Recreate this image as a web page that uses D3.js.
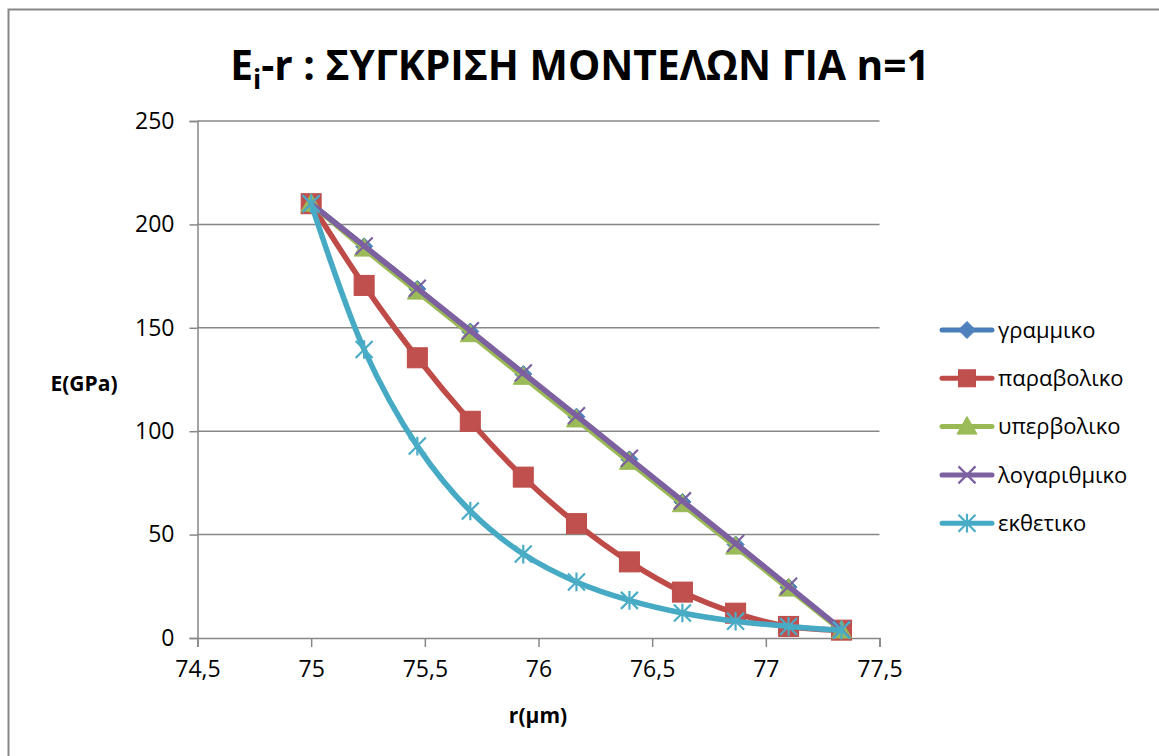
<!DOCTYPE html>
<html>
<head>
<meta charset="utf-8">
<script src="https://cdn.jsdelivr.net/npm/d3@7"></script>
<style>
	body { margin: 0; background: #fff; }
	text { font-family: "Open Sans", "Noto Sans", sans-serif; fill: #000; }
</style>
</head>
<body>
<div id="chart"></div>
<script>
// r values (μm)
var radius = [75, 75.233, 75.467, 75.7, 75.933, 76.167, 76.4, 76.633, 76.867, 77.1, 77.333];

// E values (GPa) per model
var linear = [210, 189.4, 168.8, 148.2, 127.6, 107, 86.4, 65.8, 45.2, 24.6, 4];
var parabolic = [210, 170.5, 135.5, 104.8, 77.8, 55.3, 36.8, 22.2, 12, 5.6, 3.8];
var hyperbolic = [210, 188.3, 167.5, 146.9, 126.3, 105.7, 85.2, 64.7, 44.2, 23.9, 3.6];
var logarithmic = [210, 189.6, 169.1, 148.6, 128.1, 107.5, 86.9, 66.3, 45.7, 25, 4.2];
var exponential = [210, 139.5, 92.8, 61.4, 40.6, 27.1, 18.2, 12.1, 8.1, 5.6, 3.8];

var seriesNames = ["γραμμικο", "παραβολικο", "υπερβολικο", "λογαριθμικο", "εκθετικο"];
var xTicks = [74.5, 75, 75.5, 76, 76.5, 77, 77.5];
var yTicks = [0, 50, 100, 150, 200, 250];

var width = 1159,
	height = 756;

var plot = {left: 197.5, right: 879.5, top: 121, bottom: 638};

var styles = [
	{line: "#4A7EBB", fill: "#4F81BD", marker: "diamond"},
	{line: "#BE4B48", fill: "#C0504D", marker: "square"},
	{line: "#98B954", fill: "#9BBB59", marker: "triangle"},
	{line: "#7D60A0", fill: "#8064A2", marker: "cross"},
	{line: "#46AAC5", fill: "#4BACC6", marker: "star"}
];

var series = [linear, parabolic, hyperbolic, logarithmic, exponential].map(function(vals, i) {
	return {
		name: seriesNames[i],
		style: styles[i],
		values: vals.map(function(v, j) { return {r: radius[j], e: v}; })
	};
});

var svg = d3.select("#chart").append("svg")
	.attr("width", width)
	.attr("height", height);

// chart area border
svg.append("rect")
	.attr("x", 8.5).attr("y", 9.5)
	.attr("width", width + 10).attr("height", height + 10)
	.attr("fill", "#fff")
	.attr("stroke", "#878787")
	.attr("stroke-width", 2);

var x = d3.scaleLinear().domain([74.5, 77.5]).range([plot.left, plot.right]);
var y = d3.scaleLinear().domain([0, 250]).range([plot.bottom, plot.top]);

var fmt = function(d) { return String(d).replace(".", ","); };

// gridlines
svg.append("g")
	.selectAll("line")
	.data(yTicks.filter(function(d) { return d > 0; }))
	.enter().append("line")
	.attr("x1", plot.left).attr("x2", plot.right)
	.attr("y1", function(d) { return y(d); })
	.attr("y2", function(d) { return y(d); })
	.attr("stroke", "#878787")
	.attr("stroke-width", 1.5);

var yAxis = svg.append("g")
	.attr("transform", "translate(" + plot.left + ",0)")
	.call(d3.axisLeft(y).tickValues(yTicks).tickSize(8).tickPadding(15).tickFormat(fmt));

var xAxis = svg.append("g")
	.attr("transform", "translate(0," + plot.bottom + ")")
	.call(d3.axisBottom(x).tickValues(xTicks).tickSize(9).tickPadding(14).tickFormat(fmt));

[yAxis, xAxis].forEach(function(ax) {
	ax.select(".domain").attr("stroke", "#878787").attr("stroke-width", 1.5);
	ax.selectAll(".tick line").attr("stroke", "#878787").attr("stroke-width", 1.5);
	ax.selectAll(".tick text")
		.attr("font-size", 23)
		.attr("font-family", "'Open Sans', sans-serif")
		.attr("fill", "#000");
});

// markers
function drawMarker(g, type, st, cx, cy, legend) {
	if (type === "diamond") {
		var r = 8.5;
		g.append("path")
			.attr("d", "M" + cx + "," + (cy - r) + "L" + (cx + r) + "," + cy + "L" + cx + "," + (cy + r) + "L" + (cx - r) + "," + cy + "Z")
			.attr("fill", st.fill).attr("stroke", st.line).attr("stroke-width", 1);
	} else if (type === "square") {
		var s = legend ? 8.5 : 10;
		g.append("rect")
			.attr("x", cx - s).attr("y", cy - s)
			.attr("width", 2 * s).attr("height", 2 * s)
			.attr("fill", st.fill).attr("stroke", st.line).attr("stroke-width", 1);
	} else if (type === "triangle") {
		var t = 10;
		g.append("path")
			.attr("d", "M" + cx + "," + (cy - t) + "L" + (cx + t) + "," + (cy + t * 0.75) + "L" + (cx - t) + "," + (cy + t * 0.75) + "Z")
			.attr("fill", st.fill).attr("stroke", st.line).attr("stroke-width", 1);
	} else if (type === "cross") {
		var c = 8.5;
		g.append("path")
			.attr("d", "M" + (cx - c) + "," + (cy - c) + "L" + (cx + c) + "," + (cy + c) + "M" + (cx - c) + "," + (cy + c) + "L" + (cx + c) + "," + (cy - c))
			.attr("stroke", st.line).attr("stroke-width", 2.2).attr("fill", "none");
	} else if (type === "star") {
		var a = 8.5;
		g.append("path")
			.attr("d", "M" + (cx - a) + "," + (cy - a) + "L" + (cx + a) + "," + (cy + a) + "M" + (cx - a) + "," + (cy + a) + "L" + (cx + a) + "," + (cy - a) + "M" + cx + "," + (cy - a * 1.1) + "L" + cx + "," + (cy + a * 1.1))
			.attr("stroke", st.fill).attr("stroke-width", 2.2).attr("fill", "none");
	}
}

var line = d3.line()
	.x(function(d) { return x(d.r); })
	.y(function(d) { return y(d.e); })
	.curve(d3.curveCatmullRom.alpha(0.5));

series.forEach(function(s) {
	var g = svg.append("g");
	g.append("path")
		.datum(s.values)
		.attr("d", line)
		.attr("fill", "none")
		.attr("stroke", s.style.line)
		.attr("stroke-width", 5.5)
		.attr("stroke-linejoin", "round")
		.attr("stroke-linecap", "round");
	s.values.forEach(function(d) {
		drawMarker(g, s.style.marker, s.style, x(d.r), y(d.e), false);
	});
});

// legend
var legend = svg.append("g");
series.forEach(function(s, i) {
	var ly = 330 + i * 48.3;
	var g = legend.append("g");
	g.append("line")
		.attr("x1", 942).attr("x2", 992)
		.attr("y1", ly).attr("y2", ly)
		.attr("stroke", s.style.line)
		.attr("stroke-width", 5)
		.attr("stroke-linecap", "round");
	drawMarker(g, s.style.marker, s.style, 967, ly, true);
	g.append("text")
		.attr("x", 998).attr("y", ly)
		.attr("dy", "0.35em")
		.attr("font-size", 22)
		.text(s.name);
});

// title
var title = svg.append("text")
	.attr("x", 580).attr("y", 80)
	.attr("text-anchor", "middle")
	.attr("font-weight", "bold")
	.attr("font-size", 36);
title.append("tspan").text("E");
title.append("tspan").attr("font-size", 24).attr("dy", 9).text("i");
title.append("tspan").attr("dy", -9).text("-r : ΣΥΓΚΡΙΣΗ ΜΟΝΤΕΛΩΝ ΓΙΑ n=1");
var tw = title.node().getComputedTextLength();
var fs = 36 * 700 / tw;
title.attr("font-size", fs);
title.select("tspan:nth-child(2)").attr("font-size", fs * 0.66);

// axis titles
svg.append("text")
	.attr("x", 84).attr("y", 384)
	.attr("dy", "0.35em")
	.attr("text-anchor", "middle")
	.attr("font-weight", "bold")
	.attr("font-size", 21)
	.text("E(GPa)");

svg.append("text")
	.attr("x", 538).attr("y", 716)
	.attr("dy", "0.35em")
	.attr("text-anchor", "middle")
	.attr("font-weight", "bold")
	.attr("font-size", 21)
	.text("r(μm)");
</script>
</body>
</html>
